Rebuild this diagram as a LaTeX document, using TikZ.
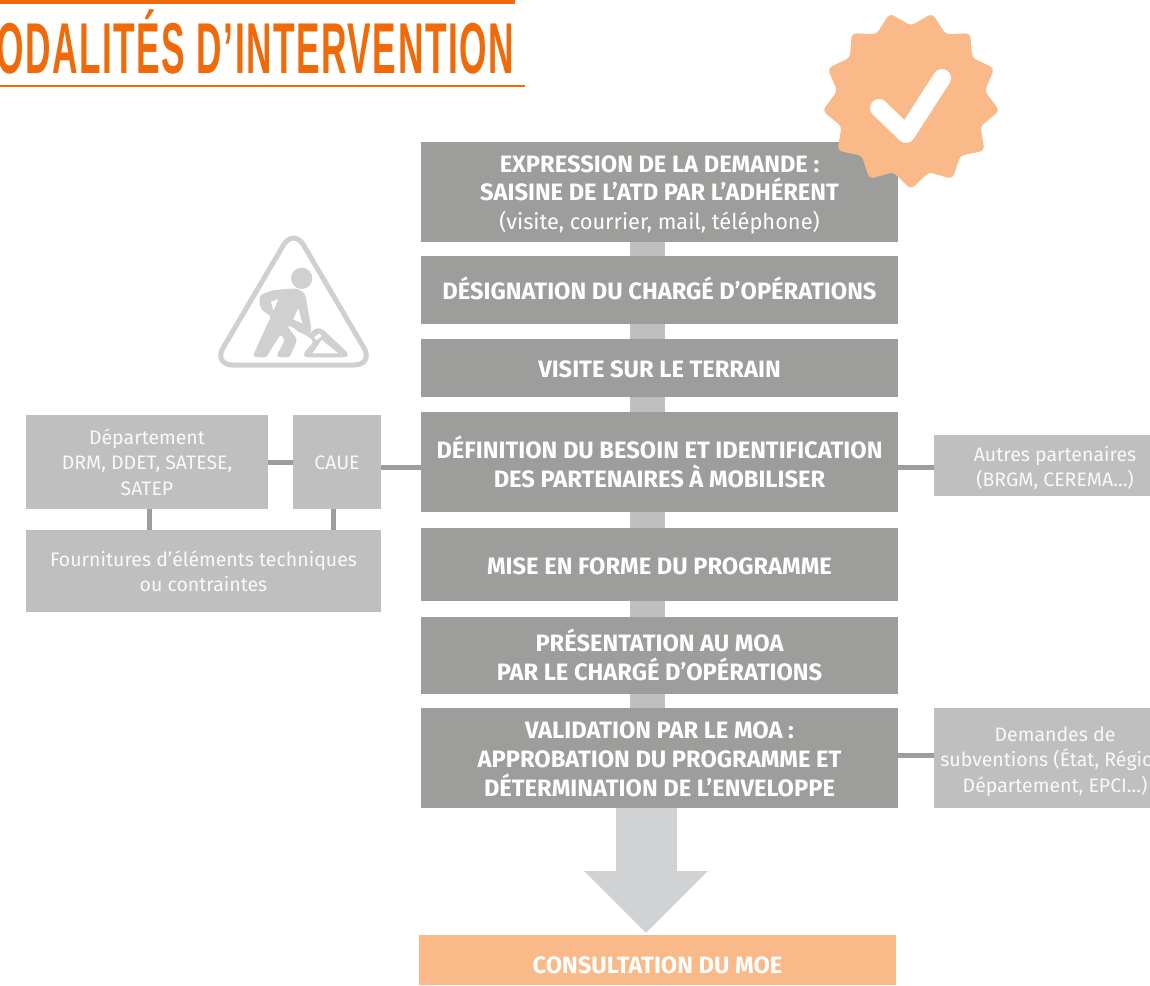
\documentclass[tikz,border=0pt]{standalone}
\usepackage{fontspec}
\setmainfont{Fira Sans}
\newfontfamily\titlefont[FakeStretch=0.49, LetterSpace=2.1]{Liberation Sans}
\usetikzlibrary{positioning, arrows.meta, calc, shapes.geometric}
\definecolor{stepgray}{HTML}{9D9D9C}
\definecolor{sidegray}{HTML}{BFBFBF}
\definecolor{arrowgray}{HTML}{D1D2D4}
\definecolor{icongray}{HTML}{D0D0D0}
\definecolor{softorange}{HTML}{F9B988}
\definecolor{titleorange}{HTML}{F06A0A}
\newcommand{\droptext}[1]{\rule{0pt}{#1}} % taller first line, the text sits lower
\newcommand{\lifttext}[1]{\rule[-#1]{0pt}{#1}} % deeper last line, the text sits higher
\tikzset{
x=1pt, y=-1pt, % one unit is one pixel of the reference
stepbox/.style={rectangle, fill=stepgray, text=white, minimum width=477pt, inner sep=0pt, outer sep=0pt, align=center, font=\bfseries\fontsize{23.7}{28.7}\selectfont}, % sets the properties of the main steps
sidebox/.style={rectangle, fill=sidegray, text=white!90!sidegray, inner sep=0pt, outer sep=0pt, align=center, font=\fontsize{19.5}{25.5}\selectfont}, % sets the properties of the partner boxes
spine/.style={sidegray, line width=35pt}, % wide band behind the steps
sidelink/.style={stepgray, line width=5pt}, % thin links to the partners
}

\begin{document}
\begin{tikzpicture}
    \useasboundingbox (0,0) rectangle (1150,985);
    \clip (0,0) rectangle (1150,985);

    % title
    \coordinate (toprule) at (515,2);
    \coordinate (lowrule) at (525,86);
    \draw[titleorange, line width=4pt] (0,2) -- (toprule);
    \draw[titleorange, line width=2.5pt] (0,86) -- (lowrule);
    \node[anchor=base east, inner sep=0pt, text=titleorange, font=\titlefont\bfseries\fontsize{72}{72}\selectfont] (title) at (514,73) {ODALITÉS D’INTERVENTION};

    % main steps
    \node[stepbox, minimum height=100pt] (demande) at (659.5,192) {\droptext{22.3pt}EXPRESSION DE LA DEMANDE :\\SAISINE DE L’ATD PAR L’ADHÉRENT\\{\normalfont\fontsize{21.8}{28.7}\selectfont (visite, courrier, mail, téléphone)}};
    \node[stepbox, minimum height=68pt, below=14pt of demande] (charge) {\lifttext{4pt}DÉSIGNATION DU CHARGÉ D’OPÉRATIONS};
    \node[stepbox, minimum height=58pt, below=15pt of charge] (visite) {\droptext{19.3pt}VISITE SUR LE TERRAIN};
    \node[stepbox, minimum height=100pt, below=15pt of visite] (besoin) {DÉFINITION DU BESOIN ET IDENTIFICATION\\DES PARTENAIRES À MOBILISER};
    \node[stepbox, minimum height=73pt, below=16pt of besoin] (programme) {\droptext{20.3pt}MISE EN FORME DU PROGRAMME};
    \node[stepbox, minimum height=77pt, below=16pt of programme] (presentation) {PRÉSENTATION AU MOA\\\lifttext{2pt}PAR LE CHARGÉ D’OPÉRATIONS};
    \node[stepbox, minimum height=100pt, below=14pt of presentation] (validation) {\droptext{19.3pt}VALIDATION PAR LE MOA :\\APPROBATION DU PROGRAMME ET\\DÉTERMINATION DE L’ENVELOPPE};
    \node[stepbox, fill=softorange, minimum height=50pt] (moe) at (657.5,960) {\droptext{28.3pt}CONSULTATION DU MOE};

    % partners
    \node[sidebox, minimum width=242pt, minimum height=94pt] (departement) at (147,462) {Département\\DRM, DDET, SATESE,\\SATEP};
    \node[sidebox, minimum width=88pt, minimum height=94pt] (caue) at (337,462) {\droptext{15.4pt}CAUE};
    \node[sidebox, minimum width=355pt, minimum height=82pt] (fournitures) at (203.5,571) {\droptext{16.4pt}Fournitures d’éléments techniques\\ou contraintes};
    \node[sidebox, minimum width=242pt, minimum height=61pt] (autres) at (1055,465.5) {\droptext{20.5pt}Autres partenaires\\(BRGM, CEREMA...)};
    \node[sidebox, minimum width=242pt, minimum height=100pt] (subventions) at (1055,758) {\droptext{21.5pt}Demandes de\\subventions (État, Région,\\Département, EPCI...)};

    % links
    \coordinate (axis) at (647.5,0);
    \draw[spine] (demande.south -| axis) -- (charge.north -| axis);
    \draw[spine] (charge.south -| axis) -- (visite.north -| axis);
    \draw[spine] (visite.south -| axis) -- (besoin.north -| axis);
    \draw[spine] (besoin.south -| axis) -- (programme.north -| axis);
    \draw[spine] (programme.south -| axis) -- (presentation.north -| axis);
    \draw[spine] (presentation.south -| axis) -- (validation.north -| axis);
    \draw[arrowgray, line width=61pt, -{Triangle[width=120pt, length=62pt]}, shorten >=2pt] (validation.south -| 646,0) -- (moe.north -| 646,0);

    \draw[sidelink] (departement) -- (caue);
    \draw[sidelink] (caue.east |- 0,467.5) -- (besoin.west |- 0,467.5);
    \draw[sidelink] (besoin.east |- 0,467.5) -- (autres.west |- 0,467.5);
    \draw[sidelink] (validation.east |- 0,755) -- (subventions.west |- 0,755);
    \draw[sidelink] (departement.south -| 149,0) -- (fournitures.north -| 149,0);
    \draw[sidelink] (caue.south -| 333,0) -- (fournitures.north -| 333,0);

    % badge
    \node[star, star points=13, star point ratio=1.2, shape border rotate=180, fill=softorange, draw=softorange, line width=1pt, rounded corners=4pt, minimum size=177pt, inner sep=0pt] (badge) at (911,100) {};
    \draw[white, line width=18pt, line cap=round, line join=round] (879,108) -- (906,134) -- (942,78);

    % worker sign
    \draw[icongray, line width=5pt, rounded corners=20pt] (293.5,228) -- (374,365) -- (213,365) -- cycle;
    \begin{scope}[shift={(240,260)}, x=0.3333pt, y=-0.3333pt]
        \fill[icongray] (185,55) circle (32);
        \fill[icongray, rounded corners=3pt] (60,105) -- (100,90) -- (170,85) -- (195,100) -- (215,210) -- (208,222) -- (165,205) -- (140,195) -- (172,240) -- (148,293) -- (108,290) -- (135,240) -- (122,222) -- (78,293) -- (38,290) -- (85,185) -- (95,170) -- (65,150) -- (58,130) -- cycle;
        \fill[white] (93,125) -- (115,118) -- (100,152) -- cycle;
        \fill[white] (175,145) -- (160,178) -- (187,190) -- cycle;
        \fill[icongray, rounded corners=3pt] (165,200) -- (210,222) -- (225,205) -- (245,205) -- (325,280) -- (320,292) -- (195,292) -- (190,280) -- (222,245) -- (205,230) -- (165,210) -- cycle;
        \fill[white] (218,280) -- (295,280) -- (245,240) -- cycle;
        \fill[white] (222,232) -- (238,220) -- (245,228) -- (230,240) -- cycle;
    \end{scope}
\end{tikzpicture}
\end{document}
